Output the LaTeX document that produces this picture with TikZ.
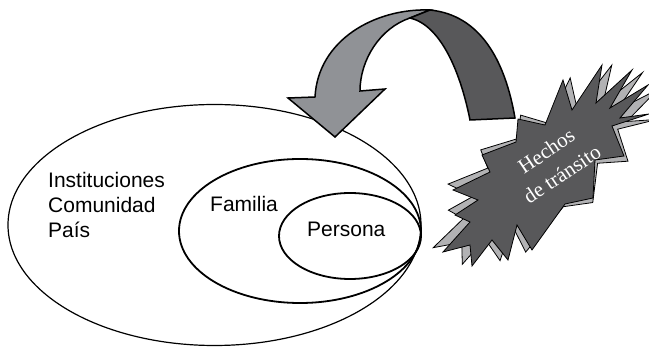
\documentclass[tikz,border=0pt]{standalone}
\usepackage{fontspec}
\setmainfont{Liberation Serif}
\newfontfamily\rotulofont{Liberation Sans}
\usetikzlibrary{shapes.geometric}

\definecolor{grisclaro}{HTML}{909296}
\definecolor{grisoscuro}{HTML}{58585A}
\definecolor{grissombra}{HTML}{B2B2B4}

\tikzset{
  circulo/.style={draw, ellipse, inner sep=0pt},
  rotulo/.style={font=\rotulofont\fontsize{21}{25}\selectfont, inner sep=0pt, anchor=base west},
  flecha/.style={draw, line width=1.5pt, line join=miter},
  rafaga/.style={draw, line width=0.8pt, line join=miter},
}

% puntas de la explosion
\def\estallido{(453,190) -- (490,172) -- (482,155) -- (516,142) -- (518,119) -- (545,125)
  -- (563,80) -- (572,110) -- (602,65) -- (596,103) -- (632,70) -- (610,108) -- (648,85)
  -- (620,118) -- (649,114) -- (612,126) -- (624,156) -- (595,160) -- (593,198) -- (565,204)
  -- (532,250) -- (517,225) -- (508,260) -- (492,240) -- (472,266) -- (470,245) -- (443,252)
  -- (470,222) -- (455,215) -- (478,200) -- cycle}

\begin{document}
\begin{tikzpicture}[x=1pt,y=-1pt]
  \useasboundingbox (0,0) rectangle (649,347);

  \node[circulo, line width=1.2pt, minimum width=413pt, minimum height=241pt] (pais) at (214.5,225) {};
  \node[circulo, line width=1.8pt, minimum width=242pt, minimum height=144pt] (familia) at (300,231) {};
  \node[circulo, line width=1.8pt, minimum width=142pt, minimum height=86pt] (persona) at (350,236) {};

  \node[rotulo] (inst) at (48,188) {Instituciones};
  \node[rotulo] (com) at (48,213) {Comunidad};
  \node[rotulo] (pa) at (48,238) {País};
  \node[rotulo] (fam) at (210,212) {Familia};
  \node[rotulo] (per) at (307,237) {Persona};

  % flecha curva
  \draw[flecha, fill=grisclaro] (430,10) .. controls (375,8) and (318,40) .. (315,97)
    -- (288,98) -- (335,137) -- (385,89) -- (360,91)
    .. controls (360,60) and (380,28) .. (410,18) -- cycle;
  \draw[flecha, fill=grisoscuro] (410,18) .. controls (440,25) and (460,70) .. (470,120)
    -- (515,118) .. controls (505,60) and (480,15) .. (430,10) -- cycle;

  % explosion con sombra
  \begin{scope}[shift={(545,170)}, rotate=-4, scale=1.04, shift={(-545,-170)}]
    \path[rafaga, fill=grissombra] \estallido;
  \end{scope}
  \path[rafaga, fill=grisoscuro] \estallido;
  \node[text=white, inner sep=0pt, font=\fontsize{21}{28}\selectfont] (hechos) at (555,164)
    {\rotatebox{34}{\begin{tabular}{@{}c@{}}Hechos\\de tránsito\end{tabular}}};
\end{tikzpicture}
\end{document}
